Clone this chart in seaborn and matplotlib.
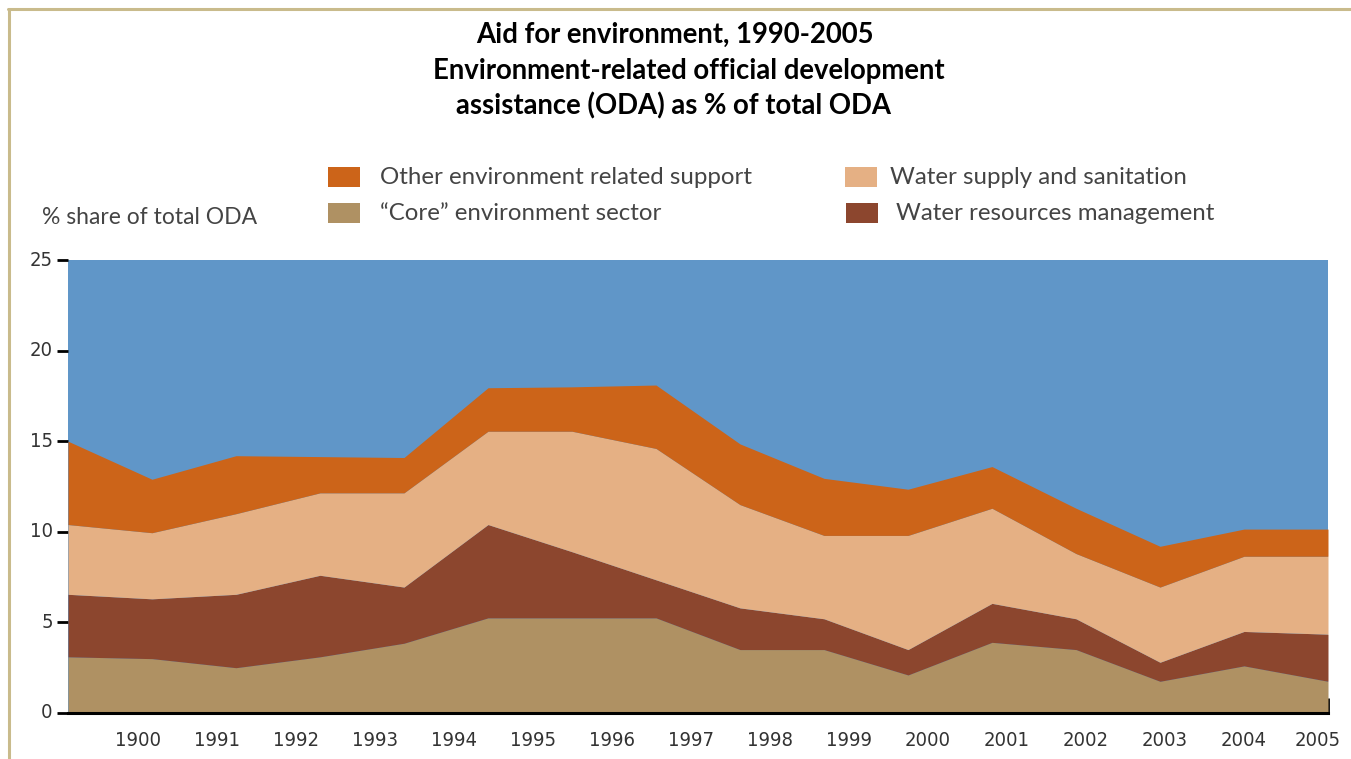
import matplotlib
matplotlib.use("Agg")
import matplotlib.pyplot as plt
import matplotlib.font_manager as fm
from matplotlib.patches import Rectangle
from matplotlib.lines import Line2D
from matplotlib.transforms import ScaledTranslation
import numpy as np
import seaborn as sns

# ---- data (share of total ODA, %) ----
years = list(range(1990, 2006))
tick_labels = ["1900", "1991", "1992", "1993", "1994", "1995", "1996", "1997",
               "1998", "1999", "2000", "2001", "2002", "2003", "2004", "2005"]
core_env = [3.1, 3.0, 2.5, 3.1, 3.85, 5.25, 5.25, 5.25, 3.5, 3.5, 2.1, 3.9, 3.5, 1.75, 2.6, 1.75]
water_res = [3.45, 3.3, 4.05, 4.5, 3.1, 5.15, 3.65, 2.1, 2.3, 1.7, 1.4, 2.15, 1.7, 1.05, 1.9, 2.6]
water_sup = [3.85, 3.65, 4.45, 4.55, 5.2, 5.15, 6.65, 7.25, 5.7, 4.6, 6.3, 5.25, 3.6, 4.15, 4.15, 4.3]
other_env = [4.6, 2.95, 3.2, 2.0, 1.95, 2.4, 2.45, 3.5, 3.35, 3.15, 2.55, 2.3, 2.5, 2.25, 1.5, 1.5]
series_names = ["\u201cCore\u201d environment sector", "Water resources management",
                "Water supply and sanitation", "Other environment related support"]

colors = {
    "core": "#AF9163",
    "wrm": "#8C462E",
    "wss": "#E5B084",
    "other": "#CC6419",
    "blue": "#6096C8",
}

sns.set_style("white")
plt.rcParams["font.family"] = ["Lato", "DejaVu Sans"]

# pick a condensed font for tick labels if available
names = {f.name for f in fm.fontManager.ttflist}
dejavu_cond = any(f.name == "DejaVu Sans" and "condensed" in str(f.stretch)
                  for f in fm.fontManager.ttflist)
if "Liberation Sans Narrow" in names:
    tick_font = dict(family="Liberation Sans Narrow", size=16)
elif dejavu_cond:
    tick_font = dict(family="DejaVu Sans", stretch="condensed", size=14.5)
else:
    tick_font = dict(family="Lato", size=15)

W, H = 1351, 759
fig = plt.figure(figsize=(W / 100, H / 100), dpi=100)
ax = fig.add_axes([68 / W, (H - 713) / H, (1328 - 68) / W, (713 - 260) / H])

x = np.arange(len(years))
ax.set_facecolor(colors["blue"])
ax.stackplot(x, core_env, water_res, water_sup, other_env,
             colors=[colors["core"], colors["wrm"], colors["wss"], colors["other"]],
             linewidth=0, antialiased=True)
ax.set_xlim(0, len(years) - 1)
ax.set_ylim(0, 25)

for s in ["top", "right", "left"]:
    ax.spines[s].set_visible(False)
ax.spines["bottom"].set_color("black")
ax.spines["bottom"].set_linewidth(2.2)

# x ticks (label positions not aligned with data points in the original)
tick_pos = np.linspace((143 - 68) / 84, len(years) - 1, len(tick_labels))
ax.set_xticks(tick_pos)
ax.set_xticklabels(tick_labels)
ax.tick_params(axis="x", direction="in", length=11, width=2, color="black",
               labelcolor="#333333", pad=13, bottom=True)
ax.set_yticks([0, 5, 10, 15, 20, 25])
ax.tick_params(axis="y", direction="out", length=8, width=2, color="black",
               labelcolor="#333333", pad=3, left=True)
for i, lab in enumerate(ax.get_xticklabels()):
    lab.set_fontproperties(fm.FontProperties(**tick_font))
    shift = -10 if i == len(tick_labels) - 1 else -5
    lab.set_transform(lab.get_transform() + ScaledTranslation(shift / 100, 0, fig.dpi_scale_trans))
for lab in ax.get_yticklabels():
    lab.set_fontproperties(fm.FontProperties(**tick_font))
    lab.set_verticalalignment("center")

# titles
title_kw = dict(ha="center", va="center", fontsize=19.8, fontweight="bold",
                family=["Lato", "DejaVu Sans"], color="black")
fig.text(675 / W, 1 - 35 / H, "Aid for environment, 1990-2005", **title_kw)
fig.text(689 / W, 1 - 71 / H, "Environment-related official development", **title_kw)
fig.text(674 / W, 1 - 106 / H, "assistance (ODA) as % of total ODA", **title_kw)

# y label
fig.text(42 / W, 1 - 217 / H, "% share of total ODA", ha="left", va="center",
         fontsize=16.5, family=["Lato", "DejaVu Sans"], color="#444444")

# legend (manual layout)
leg_items = [
    (328, 177, colors["other"], series_names[3], 380),
    (845, 177, colors["wss"], series_names[2], 890),
    (328, 213, colors["core"], series_names[0], 380),
    (846, 213, colors["wrm"], series_names[1], 896),
]
for px, py, c, name, tx in leg_items:
    fig.add_artist(Rectangle((px / W, 1 - (py + 10) / H), 32 / W, 20 / H,
                             transform=fig.transFigure, facecolor=c, edgecolor="none"))
    fig.text(tx / W, 1 - py / H, name, ha="left", va="center", fontsize=17.3,
             family=["Lato", "DejaVu Sans"], color="#444444")

# decorative frame
frame_c = "#C9BB8C"
fig.add_artist(Line2D([9 / W, 9 / W], [0, 1 - 9 / H], transform=fig.transFigure,
                      color=frame_c, linewidth=2.2))
fig.add_artist(Line2D([8 / W, 1], [1 - 9 / H, 1 - 9 / H], transform=fig.transFigure,
                      color=frame_c, linewidth=2.2))

fig.savefig("out.png", dpi=100, facecolor="white")
